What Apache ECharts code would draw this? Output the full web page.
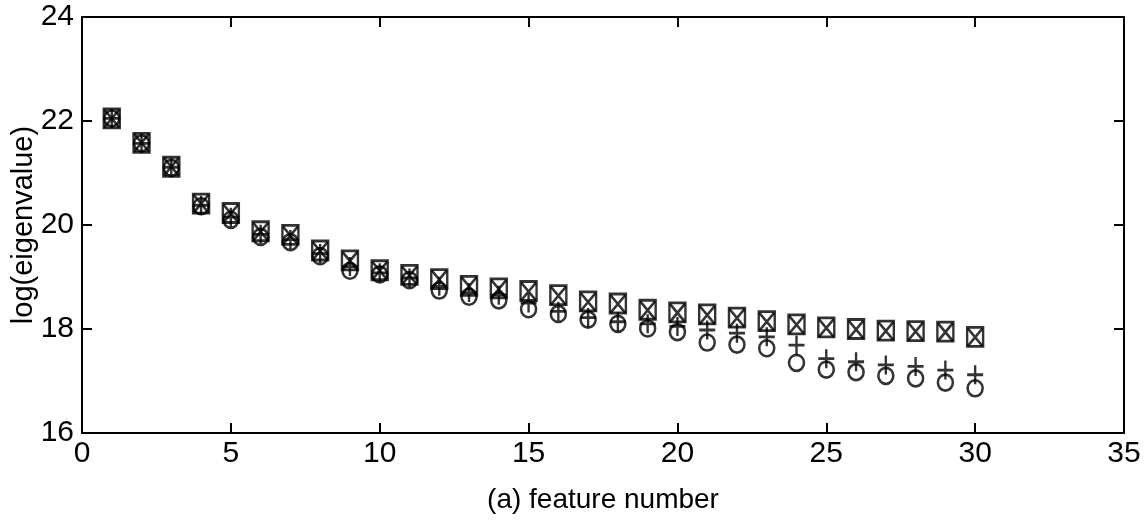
<!DOCTYPE html>
<html>
<head>
<meta charset="utf-8">
<script src="https://cdn.jsdelivr.net/npm/echarts@6/dist/echarts.min.js"></script>
<style>
html,body{margin:0;padding:0;background:#fff;}
#chart{width:1145px;height:521px;}
</style>
</head>
<body>
<div id="chart"></div>
<script>
const features = [1,2,3,4,5,6,7,8,9,10,11,12,13,14,15,16,17,18,19,20,21,22,23,24,25,26,27,28,29,30];
const squareVals = [22.05,21.58,21.12,20.41,20.23,19.88,19.81,19.51,19.32,19.13,19.04,18.96,18.83,18.78,18.73,18.65,18.53,18.49,18.37,18.32,18.28,18.22,18.15,18.09,18.03,18.00,17.97,17.96,17.95,17.85];
const crossVals  = [22.05,21.58,21.12,20.41,20.22,19.87,19.80,19.50,19.31,19.12,19.03,18.95,18.82,18.77,18.72,18.64,18.52,18.48,18.36,18.31,18.27,18.21,18.14,18.08,18.02,17.99,17.96,17.95,17.94,17.84];
const plusVals   = [22.05,21.57,21.11,20.38,20.15,19.82,19.72,19.45,19.20,19.08,18.98,18.82,18.70,18.65,18.50,18.34,18.22,18.14,18.10,18.05,17.98,17.92,17.85,17.69,17.43,17.37,17.31,17.28,17.21,17.12];
const circleVals = [22.05,21.57,21.10,20.36,20.10,19.77,19.67,19.40,19.12,19.05,18.94,18.74,18.62,18.55,18.38,18.29,18.18,18.10,18.01,17.94,17.74,17.70,17.63,17.35,17.22,17.17,17.10,17.05,16.97,16.86];
const xTicks = [0,5,10,15,20,25,30,35];
const yTicks = [16,18,20,22,24];

const pairs = vals => features.map((f,i)=>[f, vals[i]]);
const font = "'Liberation Sans', Arial, Helvetica, sans-serif";
const chart = echarts.init(document.getElementById('chart'), null, {renderer:'canvas'});

const markerStyle = {color:'none', borderColor:'#000', borderWidth:2.6};
const lineMarker = {color:'#000', borderColor:'#000', borderWidth:2.6};

const axisBase = {
  type:'value',
  axisLine:{show:true, onZero:false, lineStyle:{color:'#000', width:2}},
  axisTick:{show:true, inside:true, length:10, lineStyle:{color:'#000', width:2}},
  splitLine:{show:false}
};

chart.setOption({
  animation:false,
  backgroundColor:'#fff',
  grid:{left:82, right:21, top:17, bottom:88, containLabel:false, outerBoundsMode:'none'},
  xAxis:[
    Object.assign({}, axisBase, {
      min:xTicks[0], max:xTicks[xTicks.length-1], interval:5, position:'bottom',
      axisLabel:{show:true, color:'#000', fontFamily:font, fontSize:30, margin:6},
      name:'(a) feature number', nameLocation:'middle', nameGap:53, nameMoveOverlap:false,
      nameTextStyle:{color:'#000', fontFamily:font, fontSize:28}
    }),
    Object.assign({}, axisBase, {
      min:xTicks[0], max:xTicks[xTicks.length-1], interval:5, position:'top',
      axisLabel:{show:false}
    })
  ],
  yAxis:[
    Object.assign({}, axisBase, {
      min:yTicks[0], max:yTicks[yTicks.length-1], interval:2, position:'left',
      axisLabel:{show:true, color:'#000', fontFamily:font, fontSize:30, margin:8},
      name:'log(eigenvalue)', nameLocation:'middle', nameGap:44, nameRotate:90, nameMoveOverlap:false,
      nameTextStyle:{color:'#000', fontFamily:font, fontSize:29}
    }),
    Object.assign({}, axisBase, {
      min:yTicks[0], max:yTicks[yTicks.length-1], interval:2, position:'right',
      axisLabel:{show:false}
    })
  ],
  series:[
    {type:'scatter', name:'circle', data:pairs(circleVals), symbol:'circle', symbolSize:[15,16], itemStyle:markerStyle},
    {type:'scatter', name:'plus', data:pairs(plusVals), symbol:'path://M5,0 L5,10 M0,5 L10,5', symbolSize:[16,19], itemStyle:lineMarker},
    {type:'scatter', name:'square', data:pairs(squareVals), symbol:'rect', symbolSize:[16,19], itemStyle:markerStyle},
    {type:'scatter', name:'cross', data:pairs(crossVals), symbol:'path://M0,0 L10,10 M10,0 L0,10', symbolSize:[15,18], itemStyle:lineMarker}
  ]
});
</script>
</body>
</html>
